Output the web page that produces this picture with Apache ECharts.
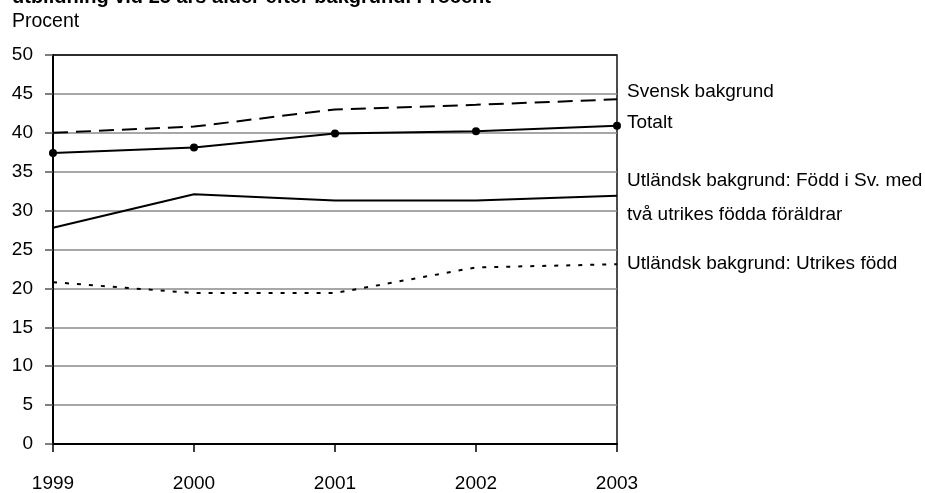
<!DOCTYPE html>
<html>
<head>
<meta charset="utf-8">
<script src="https://cdn.jsdelivr.net/npm/echarts@6/dist/echarts.min.js"></script>
<style>html,body{margin:0;padding:0;background:#fff;}#c{width:925px;height:493px;}</style>
</head>
<body>
<div id="c"></div>
<script>
const years = ['1999', '2000', '2001', '2002', '2003'];
const svenskBakgrund = [40.0, 40.8, 43.0, 43.6, 44.3];
const totalt = [37.4, 38.1, 39.9, 40.2, 40.9];
const foddISverige = [27.8, 32.1, 31.3, 31.3, 31.9];
const utrikesFodd = [20.8, 19.4, 19.4, 22.7, 23.1];
const yTicks = [0, 5, 10, 15, 20, 25, 30, 35, 40, 45, 50];

const FONT = '"Liberation Sans", Arial, sans-serif';
const chart = echarts.init(document.getElementById('c'));
const gridColors = yTicks.map((v, i) => i === yTicks.length - 1 ? '#222' : '#8a8a8a');

chart.setOption({
  backgroundColor: '#fff',
  animation: false,
  grid: { left: 53, right: 308, top: 55, bottom: 46, show: true, borderColor: '#111', borderWidth: 1.5, backgroundColor: 'transparent' },
  xAxis: {
    type: 'category', data: years, boundaryGap: false,
    axisLine: { lineStyle: { color: '#000', width: 2 } },
    axisTick: { show: true, length: 8, alignWithLabel: true, lineStyle: { color: '#000', width: 1.5 } },
    axisLabel: { color: '#000', fontSize: 19, fontFamily: FONT, margin: 30, verticalAlign: 'top' },
    splitLine: { show: false }
  },
  yAxis: {
    type: 'value', min: 0, max: 50, interval: 5,
    axisLine: { show: true, lineStyle: { color: '#000', width: 2 } },
    axisTick: { show: true, length: 8, lineStyle: { color: '#555', width: 1.5 } },
    axisLabel: { color: '#000', fontSize: 19, fontFamily: FONT, margin: 20 },
    splitLine: { show: true, lineStyle: { color: gridColors, width: 1.5 } }
  },
  series: [
    { name: 'Svensk bakgrund', type: 'line', data: svenskBakgrund, smooth: false, showSymbol: false, symbol: 'none',
      lineStyle: { color: '#000', width: 2, type: [15, 8] }, z: 5 },
    { name: 'Totalt', type: 'line', data: totalt, smooth: false, symbol: 'circle', symbolSize: 8,
      itemStyle: { color: '#000' }, lineStyle: { color: '#000', width: 2 }, z: 6 },
    { name: 'Född i Sv.', type: 'line', data: foddISverige, smooth: false, symbol: 'none',
      lineStyle: { color: '#000', width: 2 }, z: 5 },
    { name: 'Utrikes född', type: 'line', data: utrikesFodd, smooth: false, symbol: 'none',
      lineStyle: { color: '#000', width: 2, type: [4, 8] }, z: 5 }
  ],
  graphic: [
    { type: 'text', left: 12, top: -13, style: { text: 'utbildning vid 25 års ålder efter bakgrund. Procent', font: 'bold 20px ' + FONT, fill: '#000' } },
    { type: 'text', x: 12, y: 22, style: { text: 'Procent', font: '19.5px ' + FONT, fill: '#000', verticalAlign: 'middle' } },
    { type: 'text', x: 627, y: 92, style: { text: 'Svensk bakgrund', font: '19px ' + FONT, fill: '#000', verticalAlign: 'middle' } },
    { type: 'text', x: 627, y: 123, style: { text: 'Totalt', font: '19px ' + FONT, fill: '#000', verticalAlign: 'middle' } },
    { type: 'text', x: 627, y: 181, style: { text: 'Utländsk bakgrund: Född i Sv. med', font: '19px ' + FONT, fill: '#000', verticalAlign: 'middle' } },
    { type: 'text', x: 627, y: 215, style: { text: 'två utrikes födda föräldrar', font: '19px ' + FONT, fill: '#000', verticalAlign: 'middle' } },
    { type: 'text', x: 627, y: 264, style: { text: 'Utländsk bakgrund: Utrikes född', font: '19px ' + FONT, fill: '#000', verticalAlign: 'middle' } }
  ]
});
</script>
</body>
</html>
